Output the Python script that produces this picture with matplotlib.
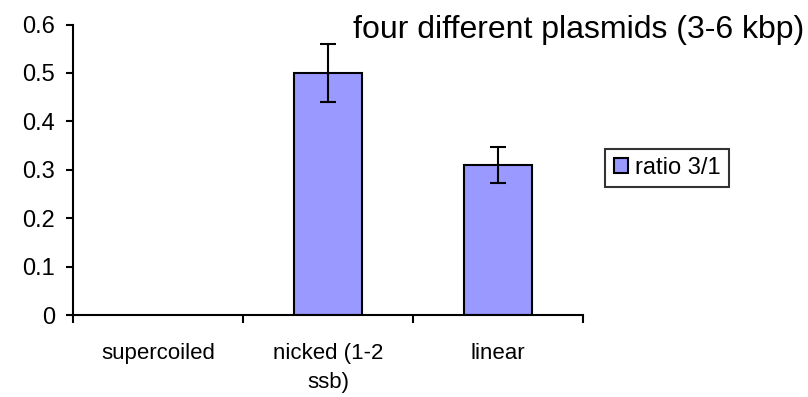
import matplotlib
matplotlib.use("Agg")
import matplotlib.pyplot as plt

plt.rcParams['font.family'] = ['Liberation Sans', 'DejaVu Sans']

# data
categories = ["supercoiled", "nicked (1-2\nssb)", "linear"]
ratio = [0, 0.5, 0.31]
errors = [0, 0.06, 0.037]

fig = plt.figure(figsize=(8.08, 3.97), dpi=100)
ax = fig.add_axes([73/808, 1 - 315/397, 510/808, 290.5/397])

ax.bar([1, 2], ratio[1:], width=0.4, color="#9999ff", edgecolor="black",
       linewidth=1.5, label="ratio 3/1", zorder=2)
ax.errorbar([1, 2], ratio[1:], yerr=errors[1:], fmt="none", ecolor="black",
            elinewidth=1.5, capsize=6, capthick=1.5, zorder=3)

ax.set_xlim(-0.5, 2.5)
ax.set_ylim(0, 0.6)
ax.set_yticks([0, 0.1, 0.2, 0.3, 0.4, 0.5, 0.6])
ax.set_yticklabels(["0", "0.1", "0.2", "0.3", "0.4", "0.5", "0.6"], fontsize=17)
ax.set_xticks([-0.5, 0.5, 1.5, 2.5])
ax.set_xticklabels([])
ax.tick_params(axis="x", direction="out", length=6, width=1.5)
ax.tick_params(axis="y", direction="out", length=5, width=1.5, pad=8)
for i, c in enumerate(categories):
    ax.text(i, -0.058, c, ha="center", va="top", fontsize=16, linespacing=1.5)

ax.spines["top"].set_visible(False)
ax.spines["right"].set_visible(False)
ax.spines["left"].set_linewidth(1.5)
ax.spines["bottom"].set_linewidth(1.5)

fig.text(579/808, 1 - 30/397, "four different plasmids (3-6 kbp)", ha="center",
         va="center", fontsize=23)

leg = fig.legend(loc="center", bbox_to_anchor=(667/808, 1 - 168/397), fontsize=17,
                 frameon=True, fancybox=False, edgecolor="black",
                 handlelength=0.6, handleheight=0.6, handletextpad=0.3,
                 borderpad=0.35)
leg.get_frame().set_linewidth(1.5)

fig.savefig("out.png", dpi=100)
